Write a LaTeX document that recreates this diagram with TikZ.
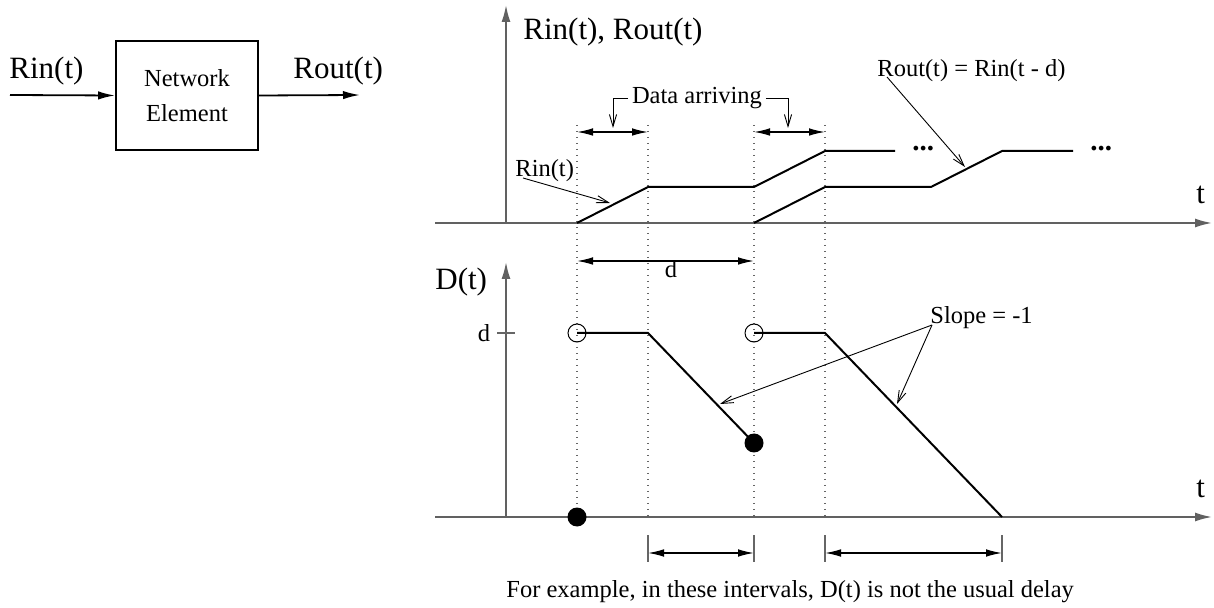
\documentclass[tikz,border=0pt]{standalone}
\usepackage{fontspec}
\setmainfont{Liberation Serif}
\usetikzlibrary{arrows.meta}
\tikzset{
  big/.style={font=\fontsize{15.5}{18}\selectfont, inner sep=0pt, anchor=base west},
  small/.style={font=\fontsize{12.25}{14}\selectfont, inner sep=0pt, anchor=base west},
  more/.style={font=\fontsize{14.5}{16}\selectfont\bfseries, inner sep=0pt, anchor=base west},
  axis/.style={draw=black!62, line width=0.9pt, -{Latex[length=8.5pt,width=4.5pt]}},
  curve/.style={draw=black, line width=1pt, line join=miter},
  guide/.style={draw=black!60, line width=0.7pt, dash pattern=on 0.7pt off 2.3pt},
  span/.style={draw=black, line width=0.7pt, {Latex[length=8pt,width=3.8pt]}-{Latex[length=8pt,width=3.8pt]}},
  flow/.style={draw=black, line width=0.9pt, -{Latex[length=8.5pt,width=4.2pt]}},
  callout/.style={draw=black, line width=0.45pt, -{Straight Barb[length=6pt,width=3.6pt]}},
  bar/.style={draw=black!60, line width=0.6pt},
  opendot/.style={circle, draw=black, line width=0.5pt, minimum size=9pt, inner sep=0pt},
  fulldot/.style={circle, fill=black, minimum size=9.5pt, inner sep=0pt},
}
\begin{document}
\begin{tikzpicture}[x=0.5pt,y=-0.5pt]
\useasboundingbox (0,0) rectangle (1214,608);

% ---- block diagram ----
\node[draw, line width=0.9pt, minimum width=71pt, minimum height=54.5pt, inner sep=0pt,
      align=center, font=\fontsize{12.25}{17.5}\selectfont] (ne) at (187,95.5) {Network\\Element};
\coordinate (inS) at (10,95);
\coordinate (outE) at (360,95);
\draw[flow] (inS) -- (ne.west);
\draw[flow] (ne.east) -- (outE);
\node[big] (lin) at (9,79) {Rin(t)};
\node[big] (lout) at (293,79) {Rout(t)};

% ---- upper plot: Rin(t), Rout(t) ----
\coordinate (ua0) at (506,223);
\coordinate (uaT) at (506,5);
\coordinate (uaL) at (435,223);
\coordinate (uaR) at (1212,223);
\draw[axis] (ua0) -- (uaT);
\draw[axis] (uaL) -- (uaR);
\node[big] (ylab) at (523,40) {Rin(t), Rout(t)};
\node[big] (tup) at (1196,204) {t};

% guide lines through both plots
\foreach \n/\x in {1/577,2/648,3/754,4/825}{
  \coordinate (g\n t) at (\x,125);
  \coordinate (g\n b) at (\x,517);
  \draw[guide] (g\n t) -- (g\n b);
}

% input rate
\coordinate (r1) at (577,223);
\coordinate (r2) at (648,187);
\coordinate (r3) at (754,187);
\coordinate (r4) at (825,151);
\coordinate (r5) at (895,151);
\draw[curve] (r1) -- (r2) -- (r3) -- (r4) -- (r5);
% output rate
\coordinate (s1) at (754,223);
\coordinate (s2) at (825,187);
\coordinate (s3) at (931,187);
\coordinate (s4) at (1002,151);
\coordinate (s5) at (1073,151);
\draw[curve] (s1) -- (s2) -- (s3) -- (s4) -- (s5);
\node[more] (dots1) at (912,151) {...};
\node[more] (dots2) at (1090,151) {...};

% arrival intervals
\coordinate (a1) at (577,132);
\coordinate (a2) at (648,132);
\coordinate (a3) at (754,132);
\coordinate (a4) at (825,132);
\draw[span] (a1) -- (a2);
\draw[span] (a3) -- (a4);
\node[small, outer sep=2pt] (da) at (628,104) {Data arriving};
\coordinate (daL) at (613,128);
\coordinate (daR) at (788,128);
\draw[callout] (da.west) -| (daL);
\draw[callout] (da.east) -| (daR);

% curve labels
\node[small] (rinl) at (515,177) {Rin(t)};
\coordinate (rinF) at (523,178);
\coordinate (rinT) at (610,203);
\draw[callout] (rinF) -- (rinT);
\node[small] (routl) at (877,77) {Rout(t) = Rin(t - d)};
\coordinate (routF) at (887,77);
\coordinate (routT) at (965,167);
\draw[callout] (routF) -- (routT);

% ---- lower plot: D(t) ----
\coordinate (da1) at (577,261);
\coordinate (da2) at (754,261);
\draw[span] (da1) -- (da2);
\node[small, anchor=base] (dlab) at (671,278) {d};

\coordinate (la0) at (506,517);
\coordinate (laT) at (506,262);
\coordinate (laL) at (435,517);
\coordinate (laR) at (1212,517);
\draw[axis] (la0) -- (laT);
\draw[axis] (laL) -- (laR);
\node[big] (Dlab) at (435,290) {D(t)};
\node[big] (tlo) at (1196,497) {t};

\coordinate (tk1) at (497,333);
\coordinate (tk2) at (515,333);
\draw[bar] (tk1) -- (tk2);
\node[small, anchor=base] (dtick) at (484,342) {d};

\coordinate (p1) at (577,333);
\coordinate (p2) at (648,333);
\coordinate (p3) at (754,443);
\coordinate (q1) at (754,333);
\coordinate (q2) at (825,333);
\coordinate (q3) at (1002,517);
\draw[curve] (p1) -- (p2) -- (p3);
\draw[curve] (q1) -- (q2) -- (q3);
\node[opendot] (o1) at (p1) {};
\node[opendot] (o2) at (q1) {};
\node[fulldot] (f1) at (p3) {};
\node[fulldot] (f2) at (577,517) {};

\node[small] (slope) at (930,324) {Slope = -1};
\coordinate (slF) at (932,325);
\coordinate (slA) at (720,404);
\coordinate (slB) at (897,404);
\draw[callout] (slF) -- (slA);
\draw[callout] (slF) -- (slB);

% intervals where D(t) is not the usual delay
\foreach \n/\x in {1/648,2/754,3/825,4/1002}{
  \coordinate (b\n t) at (\x,535);
  \coordinate (b\n b) at (\x,562);
  \draw[bar] (b\n t) -- (b\n b);
  \coordinate (m\n) at (\x,553);
}
\draw[span] (m1) -- (m2);
\draw[span] (m3) -- (m4);
\node[small] (cap) at (506,597) {For example, in these intervals, D(t) is not the usual delay};
\end{tikzpicture}
\end{document}
